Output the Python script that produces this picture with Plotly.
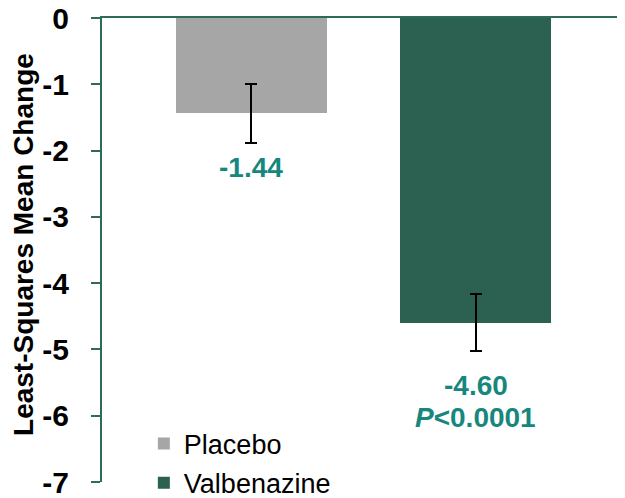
import plotly.graph_objects as go

groups = ["Placebo", "Valbenazine"]
means = [-1.44, -4.60]
errs = [0.45, 0.43]
colors = ["#A6A6A6", "#2C6050"]
value_labels = ["<b>-1.44</b>", "<b>-4.60</b>"]
p_label = "<b><i>P</i>&lt;0.0001</b>"
y_title = "<b>Least-Squares Mean Change</b>"
yticks = [0, -1, -2, -3, -4, -5, -6, -7]

teal = "#17877D"
axis_col = "#2E6B5A"
FONT = "Arial, Liberation Sans"

fig = go.Figure()
for i, g in enumerate(groups):
    fig.add_trace(go.Bar(
        x=[i], y=[means[i]], name=g, width=0.673,
        marker=dict(color=colors[i], line=dict(width=0)),
        error_y=dict(type="data", array=[errs[i]], color="black", thickness=2, width=6),
        legendgroup=g,
    ))

ann = []
label_y = [-2.25, -5.55]
for i in range(2):
    ann.append(dict(x=i, y=label_y[i], text=value_labels[i], showarrow=False,
                    font=dict(size=28, color=teal, family=FONT),
                    xref="x", yref="y"))
ann.append(dict(x=1, y=-6.03, text=p_label, showarrow=False,
                font=dict(size=28, color=teal, family=FONT),
                xref="x", yref="y"))
ann.append(dict(x=-0.149, y=0.511, xref="paper", yref="paper", text=y_title,
                textangle=-90, showarrow=False, xanchor="center", yanchor="middle",
                font=dict(size=28, color="black", family=FONT)))

fig.update_layout(
    width=625, height=498,
    margin=dict(l=94, r=8, t=10, b=24, autoexpand=False),
    paper_bgcolor="white", plot_bgcolor="white",
    font=dict(family=FONT, color="black"),
    showlegend=True,
    legend=dict(x=0.08, y=-0.055, xanchor="left", yanchor="bottom",
                font=dict(size=27, color="black"), tracegroupgap=1,
                bgcolor="rgba(0,0,0,0)", itemwidth=30),
    annotations=ann,
    bargap=0,
)
fig.update_xaxes(range=[-0.666, 1.664], side="top", showline=True, linecolor=axis_col,
                 linewidth=2, showticklabels=False, ticks="", showgrid=False, zeroline=False,
                 automargin=False)
fig.update_yaxes(range=[-7, 0], tickvals=yticks, ticktext=[f"<b>{v}</b>" for v in yticks],
                 showline=True, linecolor=axis_col, linewidth=2, ticks="outside",
                 tickcolor=axis_col, ticklen=9, tickwidth=2, showgrid=False, zeroline=False,
                 tickfont=dict(size=30, color="black"), automargin=False,
                 ticklabeloverflow="allow", ticklabelstandoff=16)

fig.write_html("out.html")
